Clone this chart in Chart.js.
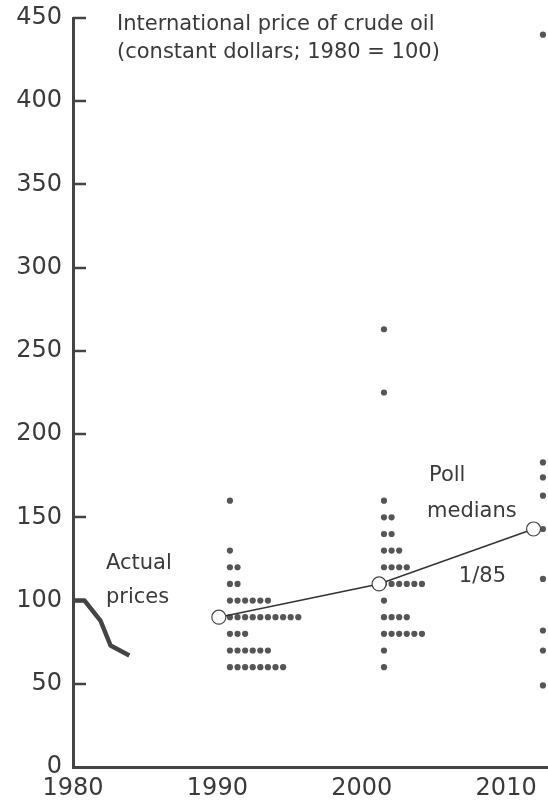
<!DOCTYPE html>
<html>
<head>
<meta charset="utf-8">
<script src="https://cdn.jsdelivr.net/npm/chart.js@4/dist/chart.umd.min.js"></script>
<style>
  html, body { margin: 0; padding: 0; background: #ffffff; overflow: hidden; }
  canvas { display: block; }
</style>
</head>
<body>
<canvas id="c" width="548" height="805"></canvas>
<script>
// ---- Data ----
const xTickYears = [1980, 1990, 2000, 2010];
const yTickValues = [0, 50, 100, 150, 200, 250, 300, 350, 400, 450];

// Actual prices (constant dollars; 1980 = 100)
const actualYears  = [1980.1, 1980.8, 1981.9, 1982.6, 1983.9];
const actualValues = [100, 100, 88, 73, 67];

// Poll medians (x = where the circles sit on the time axis)
const medianYears  = [1990.1, 2001.2, 2011.9];
const medianValues = [90, 110, 143];

// Individual poll answers: value levels and how many answers at each level
const poll1990Values = [160, 130, 120, 110, 100, 90, 80, 70, 60];
const poll1990Counts = [1, 1, 2, 2, 6, 10, 3, 6, 8];
const poll2000Values = [263, 225, 160, 150, 140, 130, 120, 110, 100, 90, 80, 70, 60];
const poll2000Counts = [1, 1, 1, 2, 2, 3, 4, 6, 1, 4, 6, 1, 1];
const poll2010Values = [440, 183, 174, 163, 143, 113, 82, 70, 49];
const poll2010Counts = [1, 1, 1, 1, 1, 1, 1, 1, 1];

// column starting positions of the dot stacks (years) and step between dots (years)
const pollColumnYears = [1990.87, 2001.54, 2012.55];
const dotStep = 0.526;

// ---- build scatter points ----
function buildDots(colYear, values, counts) {
  const pts = [];
  values.forEach((v, i) => {
    for (let k = 0; k < counts[i]; k++) pts.push({ x: colYear + k * dotStep, y: v });
  });
  return pts;
}
const dots = [].concat(
  buildDots(pollColumnYears[0], poll1990Values, poll1990Counts),
  buildDots(pollColumnYears[1], poll2000Values, poll2000Counts),
  buildDots(pollColumnYears[2], poll2010Values, poll2010Counts)
);
const actualPts = actualYears.map((x, i) => ({ x, y: actualValues[i] }));
const medianPts = medianYears.map((x, i) => ({ x, y: medianValues[i] }));

const FONT = "'DejaVu Sans', 'Liberation Sans', sans-serif";
const INK = '#3a3a3a';

// inward tick marks on the y axis
const inwardTicks = {
  id: 'inwardTicks',
  afterDraw(chart) {
    const ctx = chart.ctx, y = chart.scales.y, left = chart.chartArea.left;
    ctx.save();
    ctx.strokeStyle = '#444';
    ctx.lineWidth = 2.5;
    yTickValues.forEach(v => {
      if (v === 0) return;
      const py = Math.round(y.getPixelForValue(v));
      ctx.beginPath();
      ctx.moveTo(left, py);
      ctx.lineTo(left + 13, py);
      ctx.stroke();
    });
    ctx.restore();
  }
};

// text annotations
const notes = {
  id: 'notes',
  afterDraw(chart) {
    const ctx = chart.ctx;
    ctx.save();
    ctx.fillStyle = INK;
    ctx.textBaseline = 'alphabetic';
    ctx.font = '21px ' + FONT;
    ctx.textAlign = 'left';
    ctx.fillText('International price of crude oil', 117, 30);
    ctx.fillText('(constant dollars; 1980 = 100)', 117, 58);
    ctx.fillText('Actual', 106, 569);
    ctx.fillText('prices', 106, 603);
    ctx.fillText('Poll', 429, 481);
    ctx.fillText('medians', 427, 517);
    ctx.textAlign = 'right';
    ctx.fillText('1/85', 506, 582);
    ctx.restore();
  }
};

function noPad(s) { s.paddingTop = 0; s.paddingBottom = 0; s.paddingLeft = 0; s.paddingRight = 0; }

new Chart(document.getElementById('c'), {
  type: 'scatter',
  data: {
    datasets: [
      {
        label: 'Poll medians',
        data: medianPts,
        showLine: true,
        borderColor: '#333',
        borderWidth: 1.5,
        pointRadius: 7,
        pointBackgroundColor: '#ffffff',
        pointBorderColor: '#444',
        pointBorderWidth: 1.2,
        clip: false,
        order: 0
      },
      {
        label: 'Actual prices',
        data: actualPts,
        showLine: true,
        borderColor: '#444',
        borderWidth: 4.5,
        pointRadius: 0,
        borderJoinStyle: 'round',
        order: 1
      },
      {
        label: 'Poll answers',
        data: dots,
        pointRadius: 3.1,
        pointBackgroundColor: '#555',
        pointBorderWidth: 0,
        clip: false,
        order: 2
      }
    ]
  },
  options: {
    responsive: false,
    maintainAspectRatio: false,
    animation: false,
    layout: { autoPadding: false, padding: { top: 18, right: 0, bottom: 0, left: 0 } },
    plugins: { legend: { display: false }, tooltip: { enabled: false } },
    scales: {
      x: {
        type: 'linear',
        min: 1980,
        max: 2012.9,
        afterBuildTicks: s => { s.ticks = xTickYears.map(v => ({ value: v })); },
        afterFit: s => { s.height = 38; noPad(s); },
        grid: { display: false, drawTicks: false },
        border: { display: true, width: 3, color: '#444' },
        ticks: {
          padding: 7,
          color: INK,
          font: { family: FONT, size: 24 },
          callback: v => String(v),
          maxRotation: 0
        }
      },
      y: {
        type: 'linear',
        min: 0,
        max: 450,
        afterBuildTicks: s => { s.ticks = yTickValues.map(v => ({ value: v })); },
        afterFit: s => { s.width = 73; noPad(s); },
        grid: { display: false, drawTicks: false },
        border: { display: true, width: 3, color: '#444' },
        ticks: {
          padding: 11,
          color: INK,
          font: { family: FONT, size: 24 },
          callback: v => String(v)
        }
      }
    }
  },
  plugins: [inwardTicks, notes]
});
</script>
</body>
</html>
